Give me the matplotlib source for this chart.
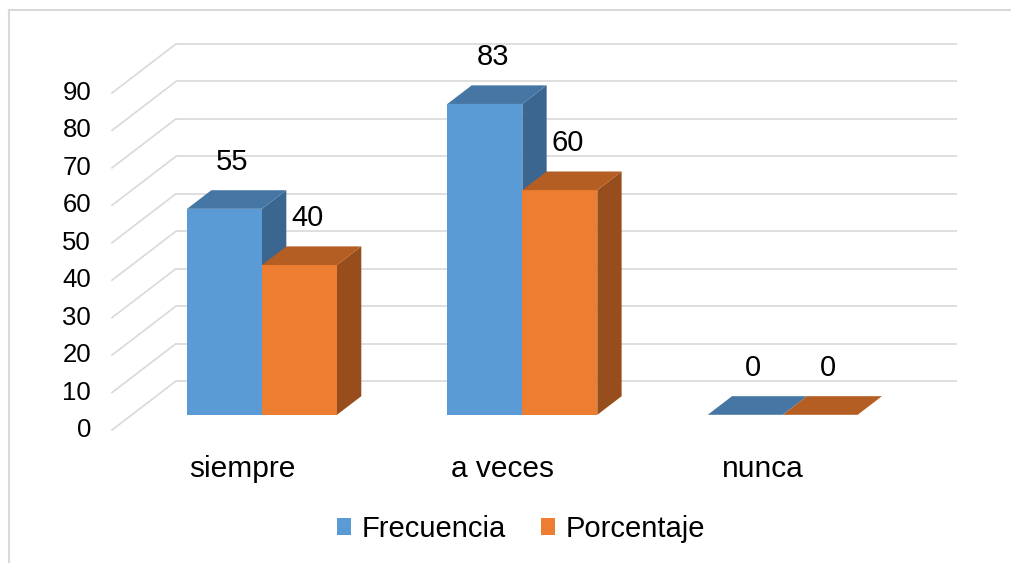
import matplotlib
matplotlib.use("Agg")
import matplotlib.pyplot as plt
from matplotlib.patches import Polygon, Patch
from matplotlib.lines import Line2D

# ---------------- data ----------------
categories = ["siempre", "a veces", "nunca"]
series_names = ["Frecuencia", "Porcentaje"]
frecuencia = [55, 83, 0]
porcentaje = [40, 60, 0]
y_ticks = [0, 10, 20, 30, 40, 50, 60, 70, 80, 90]

# ---------------- style ----------------
W, H, DPI = 1011, 563, 100
plt.rcParams['font.family'] = ['Liberation Sans', 'DejaVu Sans']
front_cols = ["#5B9BD5", "#ED7D31"]
top_cols = ["#4677A4", "#B45E23"]
side_cols = ["#3B6690", "#974E1C"]
grid_col = "#D9D9D9"

# layout of the pseudo-3D box (pixels)
FRONT_LEFT_PX = 112.0
CAT_PX = 260.33
Y0_PX = 430.0
UNIT_PX = 3.745
DEPTH_DX_PX = 64.0
DEPTH_DY_PX = 49.0

ddx = DEPTH_DX_PX / CAT_PX          # depth shift in category units
ddy = DEPTH_DY_PX / UNIT_PX         # depth shift in value units
bar_w = 0.288
z0, z1 = 0.31, 0.69
n_cat = len(categories)


def P(x, v, z):
    return (x + z * ddx, v + z * ddy)


fig = plt.figure(figsize=(W / DPI, H / DPI), dpi=DPI)
ax = fig.add_axes([0, 0, 1, 1])
ax.set_xlim(-FRONT_LEFT_PX / CAT_PX, (W - FRONT_LEFT_PX) / CAT_PX)
ax.set_ylim((Y0_PX - H) / UNIT_PX, Y0_PX / UNIT_PX)
ax.axis('off')

# chart border (top and left visible)
bx = 9 / W
by = 1 - 10 / H
fig.add_artist(Line2D([bx, bx], [0, by], transform=fig.transFigure, color=grid_col, lw=1.5))
fig.add_artist(Line2D([bx, 1], [by, by], transform=fig.transFigure, color=grid_col, lw=1.5))

# back wall gridlines + side diagonals
for t in y_ticks:
    a = P(0, t, 1)
    b = P(n_cat, t, 1)
    c = P(0, t, 0)
    ax.plot([a[0], b[0]], [a[1], b[1]], color=grid_col, lw=1.2, zorder=1, solid_capstyle='butt')
    ax.plot([c[0], a[0]], [c[1], a[1]], color=grid_col, lw=1.2, zorder=1)
    ax.annotate(str(t), xy=c, xytext=(-15, 0), textcoords='offset points',
                ha='right', va='center', fontsize=18.5, color='#000000')

# bars
values = [frecuencia, porcentaje]
z = 2
for i in range(n_cat):
    for s in range(len(values)):
        v = values[s][i]
        x0 = i + 0.5 + (s - 1) * bar_w
        x1 = x0 + bar_w
        front = [P(x0, 0, z0), P(x1, 0, z0), P(x1, v, z0), P(x0, v, z0)]
        top = [P(x0, v, z0), P(x1, v, z0), P(x1, v, z1), P(x0, v, z1)]
        side = [P(x1, 0, z0), P(x1, 0, z1), P(x1, v, z1), P(x1, v, z0)]
        ax.add_patch(Polygon(side, closed=True, facecolor=side_cols[s], edgecolor='none', zorder=z))
        ax.add_patch(Polygon(front, closed=True, facecolor=front_cols[s], edgecolor='none', zorder=z + 0.1))
        ax.add_patch(Polygon(top, closed=True, facecolor=top_cols[s], edgecolor='none', zorder=z + 0.2))
        z += 1
        xc = (x0 + x1) / 2
        ax.annotate(str(v), xy=P(xc, v, 0.5), xytext=(-3, 17), textcoords='offset points',
                    ha='center', va='bottom', fontsize=21, color='#000000', zorder=50)

# category labels
for i, name in enumerate(categories):
    ax.text(i + 0.5, (Y0_PX - 477) / UNIT_PX, name, ha='center', va='baseline',
            fontsize=21.5, color='#000000')

# legend
handles = [Patch(facecolor=front_cols[k], edgecolor='none', label=series_names[k]) for k in range(2)]
fig.legend(handles=handles, loc='center', bbox_to_anchor=(521 / W, 1 - 529 / H),
           ncol=2, frameon=False, fontsize=21, handlelength=0.5, handleheight=0.55,
           handletextpad=0.35, columnspacing=1.2, borderaxespad=0, borderpad=0)

fig.savefig("out.png", dpi=DPI)
